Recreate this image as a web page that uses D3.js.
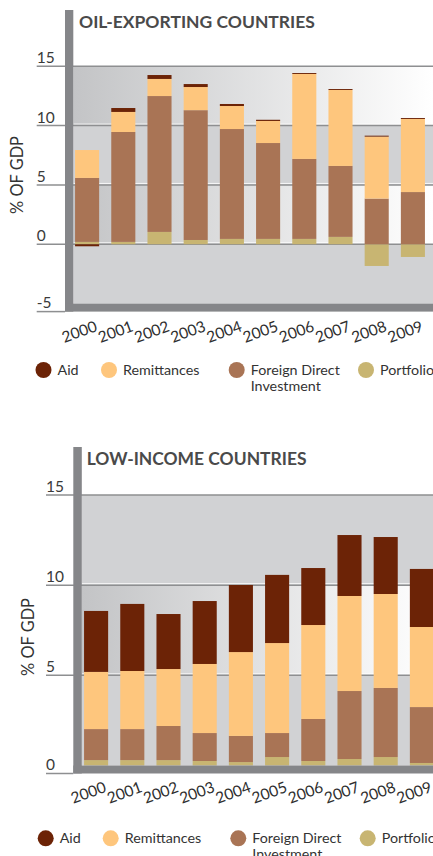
<!DOCTYPE html>
<html><head><meta charset="utf-8">
<script src="https://cdn.jsdelivr.net/npm/d3@7"></script>
<style>
body{margin:0;background:#fff;overflow:hidden}
svg{display:block}
text{font-family:Lato,"DejaVu Sans",sans-serif}
</style>
</head><body>
<svg id="c" width="433" height="856"></svg>
<script>
// ---------- data ----------
const years = ["2000","2001","2002","2003","2004","2005","2006","2007","2008","2009"];
const seriesKeys = ["Portfolio","FDI","Remittances","Aid"];
const legendKeys = ["Aid","Remittances","FDI","Portfolio"];
const legendLabels = {Aid:["Aid"],Remittances:["Remittances"],FDI:["Foreign Direct","Investment"],Portfolio:["Portfolio"]};

const oilAid         = [-0.17, 0.33, 0.33, 0.25, 0.17, 0.10, 0.08, 0.08, 0.08, 0.08];
const oilRemittances = [ 2.35, 1.69, 1.44, 1.95, 1.94, 1.86, 7.16, 6.40, 5.22, 6.16];
const oilFDI         = [ 5.39, 9.26,11.45,10.94, 9.26, 8.08, 6.74, 5.98, 3.85, 4.40];
const oilPortfolio   = [ 0.20, 0.20, 1.04, 0.36, 0.45, 0.45, 0.45, 0.62,-1.83,-1.07];
const oilTicks = [15,10,5,0,-5];

const lowAid         = [3.38, 3.72, 3.05, 3.49, 3.72, 3.78, 3.16, 3.38, 3.16, 3.22];
const lowRemittances = [3.17, 3.22, 3.16, 3.83, 4.65, 4.99, 5.21, 5.27, 5.21, 4.44];
const lowFDI         = [1.72, 1.72, 1.89, 1.55, 1.45, 1.33, 2.33, 3.77, 3.83, 3.10];
const lowPortfolio   = [0.30, 0.30, 0.30, 0.25, 0.19, 0.47, 0.25, 0.36, 0.47, 0.14];
const lowTicks = [15,10,5,0];

// ---------- styles ----------
const colors = {Aid:"#6c2306",Remittances:"#fec67d",FDI:"#a97455",Portfolio:"#c8b572"};
const W = 433;
const svg = d3.select("#c");
const defs = svg.append("defs");
const grad = defs.append("linearGradient").attr("id","bandGrad").attr("x1","0%").attr("x2","100%").attr("y1","0%").attr("y2","0%");
grad.append("stop").attr("offset","0%").attr("stop-color","#c3c4c6");
grad.append("stop").attr("offset","100%").attr("stop-color","#ffffff");

function fitText(sel, width){
  const n = sel.node();
  const fs = parseFloat(sel.attr("font-size"));
  const w = n.getComputedTextLength();
  if (w>0) sel.attr("font-size", (fs*width/w).toFixed(2));
}

function drawChart(cfg){
  const rows = years.map((y,i)=>({year:y, Portfolio:cfg.portfolio[i], FDI:cfg.fdi[i], Remittances:cfg.remittances[i], Aid:cfg.aid[i]}));
  const stack = d3.stack().keys(seriesKeys).offset(d3.stackOffsetDiverging)(rows);
  const dmin = d3.min(cfg.ticks), dmax = d3.max(cfg.ticks);
  const y = d3.scaleLinear().domain([dmin,dmax]).range([cfg.yBottom, cfg.yTop]);
  const x = d3.scaleBand().domain(years).range(cfg.xRange).paddingInner(0.335).paddingOuter(0.1675);
  const g = svg.append("g");
  const plotL = cfg.frameX + cfg.frameW;

  // background bands
  g.selectAll("rect.band").data(cfg.bands).join("rect")
    .attr("x", plotL).attr("width", W-plotL)
    .attr("y", d=>y(d[1])).attr("height", d=>y(d[0])-y(d[1]))
    .attr("fill", d=>d[2]==="grad" ? "url(#bandGrad)" : "#d1d2d4");

  // grid lines
  const grid = cfg.ticks.filter(t=>t!==dmin);
  g.selectAll("line.hl").data(grid.filter(t=>t!==dmax)).join("line")
    .attr("x1", plotL).attr("x2", W).attr("y1", t=>y(t)-1.5).attr("y2", t=>y(t)-1.5)
    .attr("stroke","#ffffff").attr("stroke-opacity",0.85).attr("stroke-width",1);
  g.selectAll("line.grid").data(grid).join("line")
    .attr("x1", cfg.tickX).attr("x2", W).attr("y1", t=>y(t)).attr("y2", t=>y(t))
    .attr("stroke","#8e8f91").attr("stroke-width",1.5);
  g.append("line").attr("x1",cfg.tickX).attr("x2",cfg.frameX)
    .attr("y1", y(dmin)+8).attr("y2", y(dmin)+8)
    .attr("stroke","#8e8f91").attr("stroke-width",1.5);

  // tick labels
  g.selectAll("text.tick").data(cfg.ticks).join("text")
    .attr("x", cfg.tickX).attr("y", t=> t===dmin ? y(dmin)+8-3.5 : y(t)-3)
    .attr("font-size", 15.5).attr("fill","#3a3a3a")
    .text(t=>t);

  // bars
  g.selectAll("g.series").data(stack).join("g")
    .attr("fill", s=>colors[s.key])
    .selectAll("rect").data(s=>s).join("rect")
    .attr("x", d=>x(d.data.year)).attr("width", x.bandwidth())
    .attr("y", d=>y(Math.max(d[0],d[1]))).attr("height", d=>Math.abs(y(d[0])-y(d[1])));

  // frame
  g.append("rect").attr("x", cfg.frameX).attr("width", cfg.frameW)
    .attr("y", cfg.frameTop).attr("height", y(dmin)+8-cfg.frameTop).attr("fill","#858689");
  g.append("rect").attr("x", cfg.frameX).attr("width", W-cfg.frameX)
    .attr("y", y(dmin)).attr("height", 8).attr("fill","#858689");

  // x labels
  const lx = y(dmin)+8+cfg.xLabelDy;
  g.selectAll("text.xl").data(years).join("text")
    .attr("transform", d=>`translate(${x(d)+x.bandwidth()/2+11},${lx}) rotate(-20)`)
    .attr("text-anchor","end").attr("font-size",15.5).attr("fill","#2e2e2e")
    .text(d=>d);

  // title
  const t = g.append("text").attr("x", cfg.titleX).attr("y", cfg.titleY)
    .attr("font-size",18).attr("font-weight",700).attr("fill","#4a4a4a").text(cfg.title);
  fitText(t, cfg.titleW);

  // y label
  const yl = g.append("text").attr("transform",`translate(${cfg.yLabelX},${cfg.yLabelY}) rotate(-90)`)
    .attr("text-anchor","middle").attr("dominant-baseline","central")
    .attr("font-size",16).attr("fill","#333").text("% OF GDP");
  fitText(yl, 78);

  // legend
  const lg = g.selectAll("g.leg").data(legendKeys).join("g")
    .attr("transform",(d,i)=>`translate(${cfg.legendX[i]},${cfg.legendY})`);
  lg.append("circle").attr("r",8).attr("fill",d=>colors[d]);
  lg.each(function(d){
    const gg = d3.select(this);
    legendLabels[d].forEach((line,j)=>{
      gg.append("text").attr("x",14).attr("y",5+j*15.5).attr("font-size",14.3).attr("fill","#333").text(line);
    });
  });
}

drawChart({
  aid:oilAid, remittances:oilRemittances, fdi:oilFDI, portfolio:oilPortfolio, ticks:oilTicks,
  yTop:66.25, yBottom:303.6, xRange:[69,431], frameX:65, frameW:8.3, frameTop:10,
  tickX:36.7, bands:[[10,15,"grad"],[5,10,"flat"],[0,5,"grad"],[-5,0,"flat"]],
  title:"OIL-EXPORTING COUNTRIES", titleX:79, titleY:28, titleW:236,
  yLabelX:16, yLabelY:175, xLabelDy:19,
  legendY:370, legendX:[43.5,109,236.7,366]
});
drawChart({
  aid:lowAid, remittances:lowRemittances, fdi:lowFDI, portfolio:lowPortfolio, ticks:lowTicks,
  yTop:495, yBottom:765.5, xRange:[78,440], frameX:73.3, frameW:8.5, frameTop:447,
  tickX:46, bands:[[10,15,"flat"],[5,10,"grad"],[0,5,"flat"]],
  title:"LOW-INCOME COUNTRIES", titleX:86.7, titleY:465, titleW:220,
  yLabelX:27, yLabelY:637, xLabelDy:18,
  legendY:838.3, legendX:[45.7,110.7,238.3,367.7]
});
</script>
</body></html>
